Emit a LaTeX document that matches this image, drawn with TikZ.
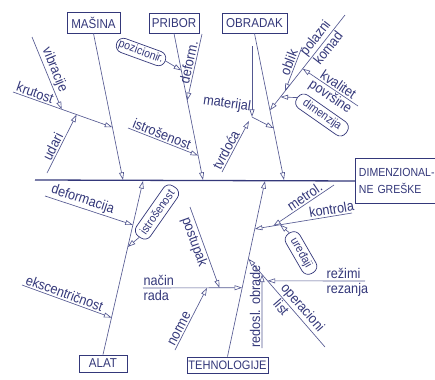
\documentclass[tikz,border=0pt]{standalone}
\usepackage{fontspec}
\setmainfont{Liberation Sans}[FakeStretch=0.9]
\usetikzlibrary{arrows.meta,calc}
\definecolor{ink}{RGB}{52,56,122}
\definecolor{lineink}{RGB}{84,88,145}
\begin{document}
\begin{tikzpicture}[x=0.03cm,y=-0.03cm,
  ln/.style={draw=lineink, line width=0.55pt},
  arr/.style={ln, -{Triangle[open,length=6.5pt,width=4.2pt]}},
  spine/.style={draw=ink, line width=1.1pt},
  lbl/.style={text=ink, font=\fontsize{12}{13}\selectfont, inner sep=1.2pt},
  cat/.style={draw=ink, line width=0.8pt, text=ink, font=\fontsize{11}{12}\selectfont, inner sep=0pt},
  pill/.style={draw=ink, line width=0.6pt, rounded corners=6pt, text=ink, font=\fontsize{10}{11}\selectfont, inner xsep=2pt, inner ysep=0pt},
]
\useasboundingbox (0,0) rectangle (435,379);
\fill[white] (0,0) rectangle (435,379);

% category boxes
\node[cat, minimum width=1.59cm, minimum height=0.63cm] (masina) at (93.5,22.5) {MAŠINA};
\node[cat, minimum width=1.5cm, minimum height=0.6cm] (pribor) at (174,23) {PRIBOR};
\node[cat, minimum width=1.95cm, minimum height=0.6cm] (obradak) at (254.5,23) {OBRADAK};
\node[cat, minimum width=1.44cm, minimum height=0.51cm] (alat) at (103,363.5) {ALAT};
\node[cat, minimum width=2.43cm, minimum height=0.48cm, font=\fontsize{10.5}{12}\selectfont] (tehno) at (227.5,365) {TEHNOLOGIJE};
\begin{scope}
\clip (0,0) rectangle (435,379);
\node[cat, anchor=north west, minimum width=2.7cm, minimum height=1.35cm, text width=2.6cm, align=left, inner xsep=3pt, font=\fontsize{10}{14.5}\selectfont] (dim) at (355,158) {DIMENZIONAL-\\NE GREŠKE};
\end{scope}

% spine
\coordinate (s0) at (35,180);
\draw[spine] (s0) -- (dim.west);

% main branches
\coordinate (m1) at (123,180);
\coordinate (p1) at (203,180);
\coordinate (o1) at (284,180);
\coordinate (a1) at (143,181);
\coordinate (t1) at (265,181);
\draw[arr] (masina.south) -- (m1);
\draw[arr] (pribor.south) -- (p1);
\draw[arr] (obradak.south) -- (o1);
\draw[arr] (alat.north) -- (a1);
\draw[arr] (tehno.north) -- (t1);

% MASINA
\coordinate (k0) at (13,92);
\coordinate (k1) at ($(masina.south)!0.64!(m1)$);
\draw[arr] (k0) -- node[lbl, pos=0.2, sloped, above] (lkrut) {krutost} (k1);
\coordinate (v0) at (32,37);
\coordinate (v1) at ($(k0)!0.49!(k1)$);
\draw[arr] (v0) -- node[lbl, pos=0.5, sloped, above] (lvib) {vibracije} (v1);
\coordinate (u0) at (47,173);
\coordinate (u1) at ($(k0)!0.64!(k1)$);
\draw[arr] (u0) -- node[lbl, pos=0.4, sloped, above] (ludar) {udari} (u1);

% PRIBOR
\coordinate (is0) at (128,128);
\coordinate (is1) at ($(pribor.south)!0.833!(p1)$);
\draw[arr] (is0) -- node[lbl, pos=0.45, sloped, above] (listr) {istrošenost} (is1);
\coordinate (d0) at (202,34);
\coordinate (d1) at ($(pribor.south)!0.456!(p1)$);
\draw[arr] (d0) -- node[lbl, pos=0.45, sloped, above] (ldef) {deform.} (d1);
\node[pill, rotate=-20, minimum width=1.53cm, minimum height=0.44cm] (poz) at (141,52) {pozicionir.};
\coordinate (pz1) at ($(pribor.south)!0.252!(p1)$);
\draw[arr] (poz.east) -- (pz1);

% OBRADAK
\coordinate (vm0) at (252,46);
\coordinate (vm1) at (252,117);
\draw[arr] (vm0) -- (vm1);
\node[lbl, rotate=-8] (lmat) at (227,104) {materijal};
\coordinate (mt1) at ($(obradak.south)!0.646!(o1)$);
\draw[arr] (vm1) -- (mt1);
\coordinate (tv0) at (222,172);
\coordinate (tv1) at (249,121);
\draw[arr] (tv0) -- node[lbl, pos=0.37, sloped, above] (ltvr) {tvrdoća} (tv1);
\coordinate (pk0) at (345,15);
\coordinate (pk1) at ($(obradak.south)!0.524!(o1)$);
\draw[arr] (pk0) -- node[lbl, pos=0.3, sloped, above] (lpol) {polazni}
                    node[lbl, pos=0.3, sloped, below] (lkom) {komad} (pk1);
\coordinate (kv0) at (358,106);
\coordinate (kv1) at ($(pk0)!0.564!(pk1)$);
\draw[arr] (kv0) -- node[lbl, pos=0.42, sloped, above] (lkva) {kvalitet}
                    node[lbl, pos=0.42, sloped, below] (lpov) {površine} (kv1);
\coordinate (ob0) at (302,47);
\coordinate (ob1) at ($(pk0)!0.8!(pk1)$);
\draw[arr] (ob0) -- node[lbl, pos=0.4, sloped, above] (lobl) {oblik} (ob1);
\node[pill, rotate=-35, minimum width=1.8cm, minimum height=0.48cm] (dimz) at (322,115) {dimenzija};
\coordinate (dz1) at ($(pk0)!0.86!(pk1)$);
\draw[arr] (dimz.west) -- (dz1);

% ALAT
\coordinate (e0) at (22,285);
\coordinate (e1) at ($(alat.north)!0.213!(a1)$);
\draw[arr] (e0) -- node[lbl, pos=0.45, sloped, above] (leks) {ekscentričnost} (e1);
\coordinate (df0) at (45,196);
\coordinate (df1) at ($(alat.north)!0.747!(a1)$);
\draw[arr] (df0) -- node[lbl, pos=0.4, sloped, above] (ldfm) {deformacija} (df1);
\node[pill, rotate=55, minimum width=1.83cm, minimum height=0.51cm] (ist) at (157,212) {istrošenost};
\coordinate (ib1) at ($(alat.north)!0.62!(a1)$);
\draw[arr] (ist.west) -- (ib1);

% TEHNOLOGIJE
\coordinate (nr0) at (143,288);
\coordinate (nr1) at ($(tehno.north)!0.392!(t1)$);
\draw[arr] (nr0) -- (nr1);
\node[lbl, anchor=south west] (lnac) at (142,287) {način};
\node[lbl, anchor=north west] (lrad) at (142,289) {rada};
\coordinate (ps0) at (190,207);
\coordinate (ps1) at ($(nr0)!0.77!(nr1)$);
\draw[arr] (ps0) -- node[lbl, pos=0.4, sloped, below] (lpos) {postupak} (ps1);
\coordinate (nm0) at (175,350);
\coordinate (nm1) at ($(nr0)!0.645!(nr1)$);
\draw[arr] (nm0) -- node[lbl, pos=0.3, sloped, above] (lnor) {norme} (nm1);
\coordinate (kt0) at (352,213);
\coordinate (kt1) at ($(tehno.north)!0.727!(t1)$);
\draw[arr] (kt0) -- node[lbl, pos=0.2, sloped, above] (lkon) {kontrola} (kt1);
\coordinate (mr0) at (334,185);
\coordinate (mr1) at ($(kt0)!0.81!(kt1)$);
\draw[arr] (mr0) -- node[lbl, pos=0.42, sloped, above] (lmet) {metrol.} (mr1);
\node[pill, rotate=-60, minimum width=1.38cm, minimum height=0.48cm] (ure) at (301,253) {uređaji};
\coordinate (ur1) at ($(kt0)!0.74!(kt1)$);
\draw[arr] (ure.west) -- (ur1);
\coordinate (ol0) at (325,347);
\coordinate (ol1) at ($(tehno.north)!0.557!(t1)$);
\draw[arr] (ol0) -- node[lbl, pos=0.38, sloped, above] (lope) {operacioni}
                    node[lbl, pos=0.5, sloped, below] (llis) {list} (ol1);
\coordinate (rz0) at (365,281);
\coordinate (rz1) at ($(ol1)!0.25!(ol0)$);
\draw[arr] (rz0) -- (rz1);
\node[lbl, anchor=south west] (lrez) at (325,280) {režimi};
\node[lbl, anchor=north west] (lrza) at (325,282) {rezanja};
\coordinate (rd0) at (262,348);
\coordinate (rd1) at ($(ol1)!0.178!(ol0)$);
\draw[arr] (rd0) -- node[lbl, pos=0.565, sloped, above] (lred) {redosl. obrade} (rd1);
\end{tikzpicture}
\end{document}
